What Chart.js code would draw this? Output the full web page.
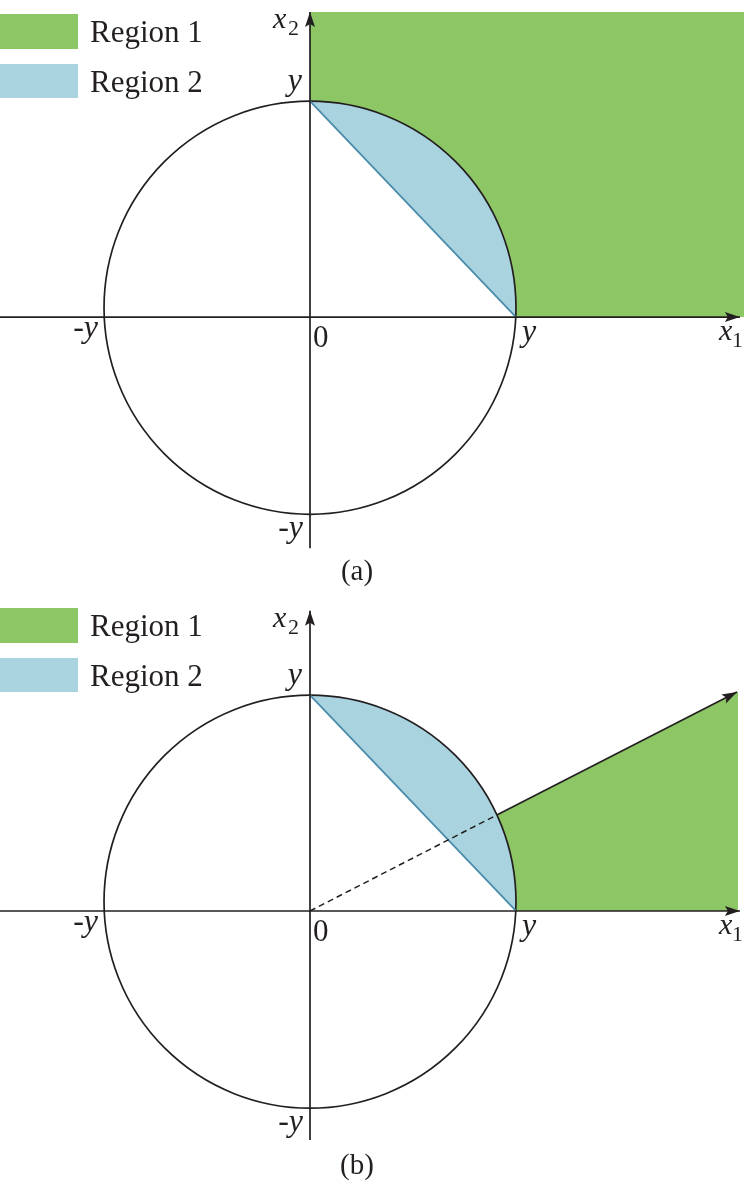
<!DOCTYPE html>
<html>
<head>
<meta charset="utf-8">
<script src="https://cdn.jsdelivr.net/npm/chart.js@4.4.0/dist/chart.umd.min.js"></script>
<style>
  html, body { margin: 0; padding: 0; background: #fff; overflow: hidden; }
  canvas { display: block; }
</style>
</head>
<body>
<canvas id="chartA" width="744" height="594"></canvas>
<canvas id="chartB" width="744" height="590"></canvas>
<script>
// names shown in the figure
const regionLabels = ['Region 1', 'Region 2'];
const panelCaptions = ['(a)', '(b)'];
const axisSubscripts = ['1', '2'];
const tickLabels = ['y', '-y', 'y', '-y', '0'];
// where the tick labels sit (data units, radius y = 1)
const tickPoints = [[0, 1.045], [-1, 0], [1, 0], [0, -0.955], [0, 0]];

// circle |x| = y (its centre sits a little above the x1 axis in the drawing)
const circleCenter = [0, 0.045];
const circleRadius = 1;

// visible window of each panel
const xRange = [-1.505, 2.107];
const yRangeA = [-1.341, 1.535];
const yRangeB = [-1.322, 1.535];

// panel (a)
const x1AxisA = [[-1.505, 0], [2.087, 0]];
const x2AxisA = [[0, -1.119], [0, 1.477]];
const region1A = [[0, 1.477], [2.12, 1.477]];
const chordA = [[0, 1.045], [1, 0]];

// panel (b)
const x1AxisB = [[-1.505, 0], [2.087, 0]];
const x2AxisB = [[0, -1.109], [0, 1.454]];
const region1B = [[0, 0], [2.078, 1.062]];
const chordB = [[0, 1.045], [1, 0]];
const dashB = [[0, 0], [0.907, 0.465]];
const rayB = [[0.907, 0.465], [2.073, 1.06]];

const GREEN = '#8cc665';
const BLUE = '#a9d3df';
const CHORD = '#4a8cab';
const INK = '#231f20';
const SERIF = '"Liberation Serif", "Times New Roman", serif';

function pts(list) {
    return list.map((p) => ({ x: p[0], y: p[1] }));
}

function lineSet(id, list, extra) {
    return Object.assign({
        id: id,
        data: pts(list),
        showLine: true,
        borderColor: INK,
        borderWidth: 1.7,
        pointRadius: 0,
        fill: false,
        order: 0
    }, extra || {});
}

function arrowHead(ctx, x0, y0, x1, y1) {
    const a = Math.atan2(y1 - y0, x1 - x0);
    const len = 15, half = 5, notch = 3;
    ctx.save();
    ctx.translate(x1, y1);
    ctx.rotate(a);
    ctx.beginPath();
    ctx.moveTo(0, 0);
    ctx.lineTo(-len, -half);
    ctx.lineTo(-len + notch, 0);
    ctx.lineTo(-len, half);
    ctx.closePath();
    ctx.fillStyle = INK;
    ctx.fill();
    ctx.restore();
}

// draws the white disk, region 2 and the circle right after region 1
const geometryPlugin = {
    id: 'geometry',
    afterDatasetDraw(chart, args) {
        const sets = chart.data.datasets;
        if (sets[args.index].id !== 'region1') return;
        const ctx = chart.ctx;
        const x = chart.scales.x, y = chart.scales.y;
        const cx = x.getPixelForValue(circleCenter[0]);
        const cy = y.getPixelForValue(circleCenter[1]);
        const rx = x.getPixelForValue(circleCenter[0] + circleRadius) - cx;
        const ry = cy - y.getPixelForValue(circleCenter[1] + circleRadius);
        const chord = sets.find((d) => d.id === 'chord').data;
        const ang = (p) => Math.atan2((y.getPixelForValue(p.y) - cy) / ry, (x.getPixelForValue(p.x) - cx) / rx);

        ctx.save();
        ctx.beginPath();
        ctx.ellipse(cx, cy, rx, ry, 0, 0, Math.PI * 2);
        ctx.fillStyle = '#fff';
        ctx.fill();

        ctx.beginPath();
        ctx.ellipse(cx, cy, rx, ry, 0, ang(chord[0]), ang(chord[1]));
        ctx.closePath();
        ctx.fillStyle = BLUE;
        ctx.fill();

        ctx.beginPath();
        ctx.ellipse(cx, cy, rx, ry, 0, 0, Math.PI * 2);
        ctx.strokeStyle = INK;
        ctx.lineWidth = 1.7;
        ctx.stroke();
        ctx.restore();
    },
    afterDatasetsDraw(chart) {
        const ctx = chart.ctx;
        const x = chart.scales.x, y = chart.scales.y;
        chart.data.datasets.forEach((d) => {
            if (!d.arrow) return;
            const n = d.data.length;
            const a = d.data[n - 2], b = d.data[n - 1];
            arrowHead(ctx, x.getPixelForValue(a.x), y.getPixelForValue(a.y),
                x.getPixelForValue(b.x), y.getPixelForValue(b.y));
        });
    },
    afterDraw(chart, args, opts) {
        const ctx = chart.ctx;
        const x = chart.scales.x, y = chart.scales.y;
        ctx.save();
        ctx.fillStyle = INK;
        ctx.textBaseline = 'alphabetic';

        // legend
        const boxes = [[14, 49], [64, 98]];
        const colors = [GREEN, BLUE];
        const baselines = [42, 92];
        regionLabels.forEach((label, i) => {
            ctx.fillStyle = colors[i];
            ctx.fillRect(0, boxes[i][0], 78, boxes[i][1] - boxes[i][0]);
            ctx.fillStyle = INK;
            ctx.font = '31px ' + SERIF;
            ctx.textAlign = 'left';
            ctx.fillText(label, 90, baselines[i]);
        });

        // tick labels
        const place = [
            { dx: -8, dy: -11, align: 'right' },
            { dx: -6, dy: 20, align: 'right' },
            { dx: 6, dy: 24, align: 'left' },
            { dx: -7, dy: 23, align: 'right' },
            { dx: 3, dy: 30, align: 'left' }
        ];
        tickLabels.forEach((t, i) => {
            const px = x.getPixelForValue(tickPoints[i][0]) + place[i].dx;
            const py = y.getPixelForValue(tickPoints[i][1]) + place[i].dy;
            ctx.textAlign = place[i].align;
            ctx.font = (t === '0' ? '31px ' : 'italic 32px ') + SERIF;
            ctx.fillText(t, px, py);
        });

        // axis names x1, x2 next to the arrow tips
        const sets = chart.data.datasets;
        const tip = (id) => {
            const d = sets.find((s) => s.id === id).data;
            const p = d[d.length - 1];
            return [x.getPixelForValue(p.x), y.getPixelForValue(p.y)];
        };
        const names = [['x1', -21, 23, -8, 30], ['x2', -37, 16, -22, 23]];
        names.forEach((nm, i) => {
            const [tx, ty] = tip(nm[0]);
            ctx.textAlign = 'left';
            ctx.font = 'italic 30px ' + SERIF;
            ctx.fillText('x', tx + nm[1], ty + nm[2]);
            ctx.font = '22px ' + SERIF;
            ctx.fillText(axisSubscripts[i], tx + nm[3], ty + nm[4]);
        });

        // caption
        ctx.textAlign = 'center';
        ctx.font = '29px ' + SERIF;
        ctx.fillText(opts.caption, 357, 580);
        ctx.restore();
    }
};

function makeChart(canvasId, yRange, datasets, caption) {
    return new Chart(canvasId, {
        type: 'scatter',
        data: { datasets: datasets },
        options: {
            responsive: false,
            animation: false,
            events: [],
            layout: { padding: 0 },
            elements: { point: { radius: 0 }, line: { tension: 0 } },
            scales: {
                x: { type: 'linear', min: xRange[0], max: xRange[1], display: false },
                y: { type: 'linear', min: yRange[0], max: yRange[1], display: false }
            },
            plugins: {
                legend: { display: false },
                tooltip: { enabled: false },
                geometry: { caption: caption }
            }
        },
        plugins: [geometryPlugin]
    });
}

makeChart('chartA', yRangeA, [
    lineSet('x1', x1AxisA, { arrow: true }),
    lineSet('x2', x2AxisA, { arrow: true }),
    lineSet('chord', chordA, { borderColor: CHORD, borderWidth: 1.8 }),
    lineSet('region1', region1A, { fill: 'origin', backgroundColor: GREEN, borderWidth: 0, order: 9 })
], panelCaptions[0]);

makeChart('chartB', yRangeB, [
    lineSet('x1', x1AxisB, { arrow: true }),
    lineSet('x2', x2AxisB, { arrow: true }),
    lineSet('ray', rayB, { arrow: true }),
    lineSet('dash', dashB, { borderDash: [6, 4], borderWidth: 1.5 }),
    lineSet('chord', chordB, { borderColor: CHORD, borderWidth: 1.8 }),
    lineSet('region1', region1B, { fill: 'origin', backgroundColor: GREEN, borderWidth: 0, order: 9 })
], panelCaptions[1]);
</script>
</body>
</html>
